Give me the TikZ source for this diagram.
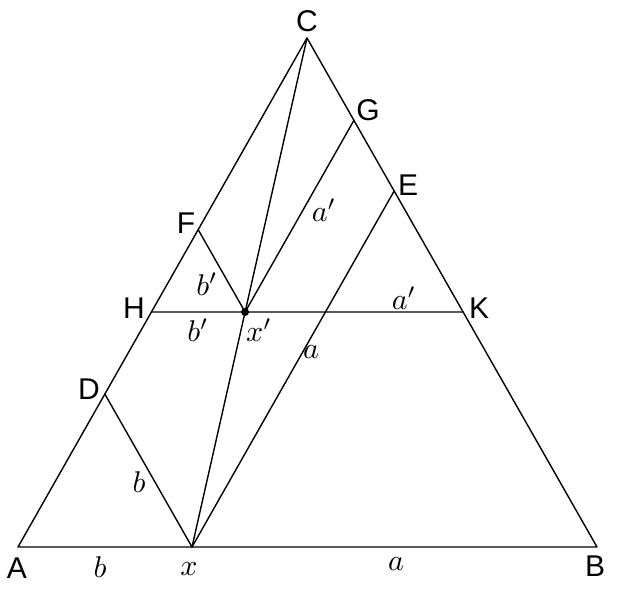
\documentclass[tikz,border=0pt]{standalone}
\usepackage{fontspec}
\setsansfont{Liberation Sans}
\usetikzlibrary{calc}
\begin{document}
\begin{tikzpicture}[x=1pt,y=-1pt,
  edge/.style={line width=1.4pt, line cap=round, line join=round},
  ptlabel/.style={font=\sffamily\fontsize{30}{32}\selectfont, inner sep=0pt},
  seglabel/.style={inner sep=0pt, scale=3.0}]
\useasboundingbox (0,0) rectangle (618,594);
\coordinate (A) at (18,547);
\coordinate (B) at (597,547);
\coordinate (C) at (307,38);
\coordinate (x) at (192,547);
\coordinate (L1) at (0,312);
\coordinate (L2) at (600,312);
\coordinate (H) at (intersection of A--C and L1--L2);
\coordinate (K) at (intersection of B--C and L1--L2);
\coordinate (xp) at (intersection of x--C and L1--L2);
\coordinate (D0) at ($(x)+(C)-(B)$);
\coordinate (E0) at ($(x)+(C)-(A)$);
\coordinate (F0) at ($(xp)+(C)-(B)$);
\coordinate (G0) at ($(xp)+(C)-(A)$);
\coordinate (D) at (intersection of A--C and x--D0);
\coordinate (E) at (intersection of B--C and x--E0);
\coordinate (F) at (intersection of A--C and xp--F0);
\coordinate (G) at (intersection of B--C and xp--G0);
\draw[edge] (A) -- (B) -- (C) -- cycle;
\draw[edge] (x) -- (D);
\draw[edge] (x) -- (E);
\draw[edge] (x) -- (C);
\draw[edge] (H) -- (K);
\draw[edge] (xp) -- (F);
\draw[edge] (xp) -- (G);
\fill (xp) circle (4);
\node[ptlabel] (lA) at (17,568) {A};
\node[ptlabel] (lB) at (595,566) {B};
\node[ptlabel] (lC) at (307,21) {C};
\node[ptlabel] (lD) at (89,389) {D};
\node[ptlabel] (lE) at (408,185) {E};
\node[ptlabel] (lF) at (186,223) {F};
\node[ptlabel] (lG) at (368,110) {G};
\node[ptlabel] (lH) at (134,308) {H};
\node[ptlabel] (lK) at (479,308) {K};
\node[seglabel] (sb1) at (100,567) {$b$};
\node[seglabel] (sx) at (189,569) {$x$};
\node[seglabel] (sa1) at (396,564) {$a$};
\node[seglabel] (sb2) at (139,482) {$b$};
\node[seglabel] (sa2) at (311,352) {$a$};
\node[seglabel] (sb3) at (207,284) {$b'$};
\node[seglabel] (sb4) at (198,330) {$b'$};
\node[seglabel] (sxp) at (259,330) {$x'$};
\node[seglabel] (sa3) at (404,298) {$a'$};
\node[seglabel] (sa4) at (324,210) {$a'$};
\end{tikzpicture}
\end{document}
